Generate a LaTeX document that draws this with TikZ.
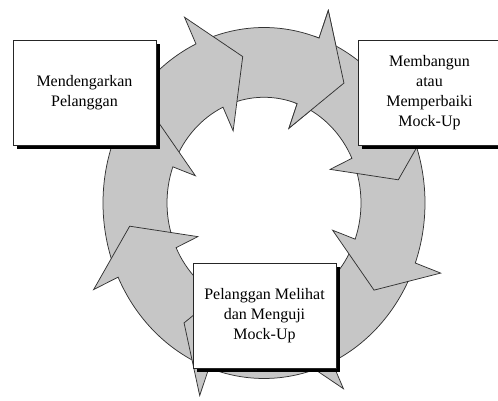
\documentclass[tikz,border=0pt]{standalone}
\usepackage{fontspec}
\setmainfont{Liberation Serif}
\usetikzlibrary{shadows}
\definecolor{ringgray}{RGB}{198,198,198}
\tikzset{
  ringarrow/.style={fill=ringgray, draw=black!80, line width=0.75pt, line join=miter},
  stepcard/.style={draw=black!85, line width=0.8pt, fill=white,
    minimum width=143pt, minimum height=105pt, inner sep=2pt, align=center,
    text=black, font=\fontsize{16}{19.8}\selectfont,
    general shadow={fill=black, shadow xshift=4pt, shadow yshift=-4.5pt}}
}
% one curved arrow of the ring; #1 = angle of the head base
\newcommand\cyclearrow[1]{%
  \path[ringarrow] ({#1+42}:161) arc[start angle={#1+42}, end angle={#1}, radius=161]
    -- (#1:188) -- ({#1-16}:136) -- (#1:73) -- (#1:97)
    arc[start angle={#1}, end angle={#1+42}, radius=97] -- cycle;}
\begin{document}
\begin{tikzpicture}[x=1pt,y=1pt]
  \useasboundingbox (0,0) rectangle (498,401);
  \clip (0,0) rectangle (498,401);
  \begin{scope}[shift={(264,198)}, yscale=1.09]
    \foreach \a in {70,115,160,-155,-110,-65,-20,25} {\cyclearrow{\a}}
    \begin{scope}
      \clip (0,0) -- (72:230) arc[start angle=72, end angle=45, radius=230] -- cycle;
      \cyclearrow{70}
    \end{scope}
  \end{scope}
  \node[stepcard] (listen) at (84.5,308.5) {Mendengarkan\\Pelanggan};
  \node[stepcard] (build) at (429.5,308.5) {Membangun\\atau\\Memperbaiki\\Mock-Up};
  \node[stepcard] (test) at (264.5,85.5) {Pelanggan Melihat\\dan Menguji\\Mock-Up};
\end{tikzpicture}
\end{document}
